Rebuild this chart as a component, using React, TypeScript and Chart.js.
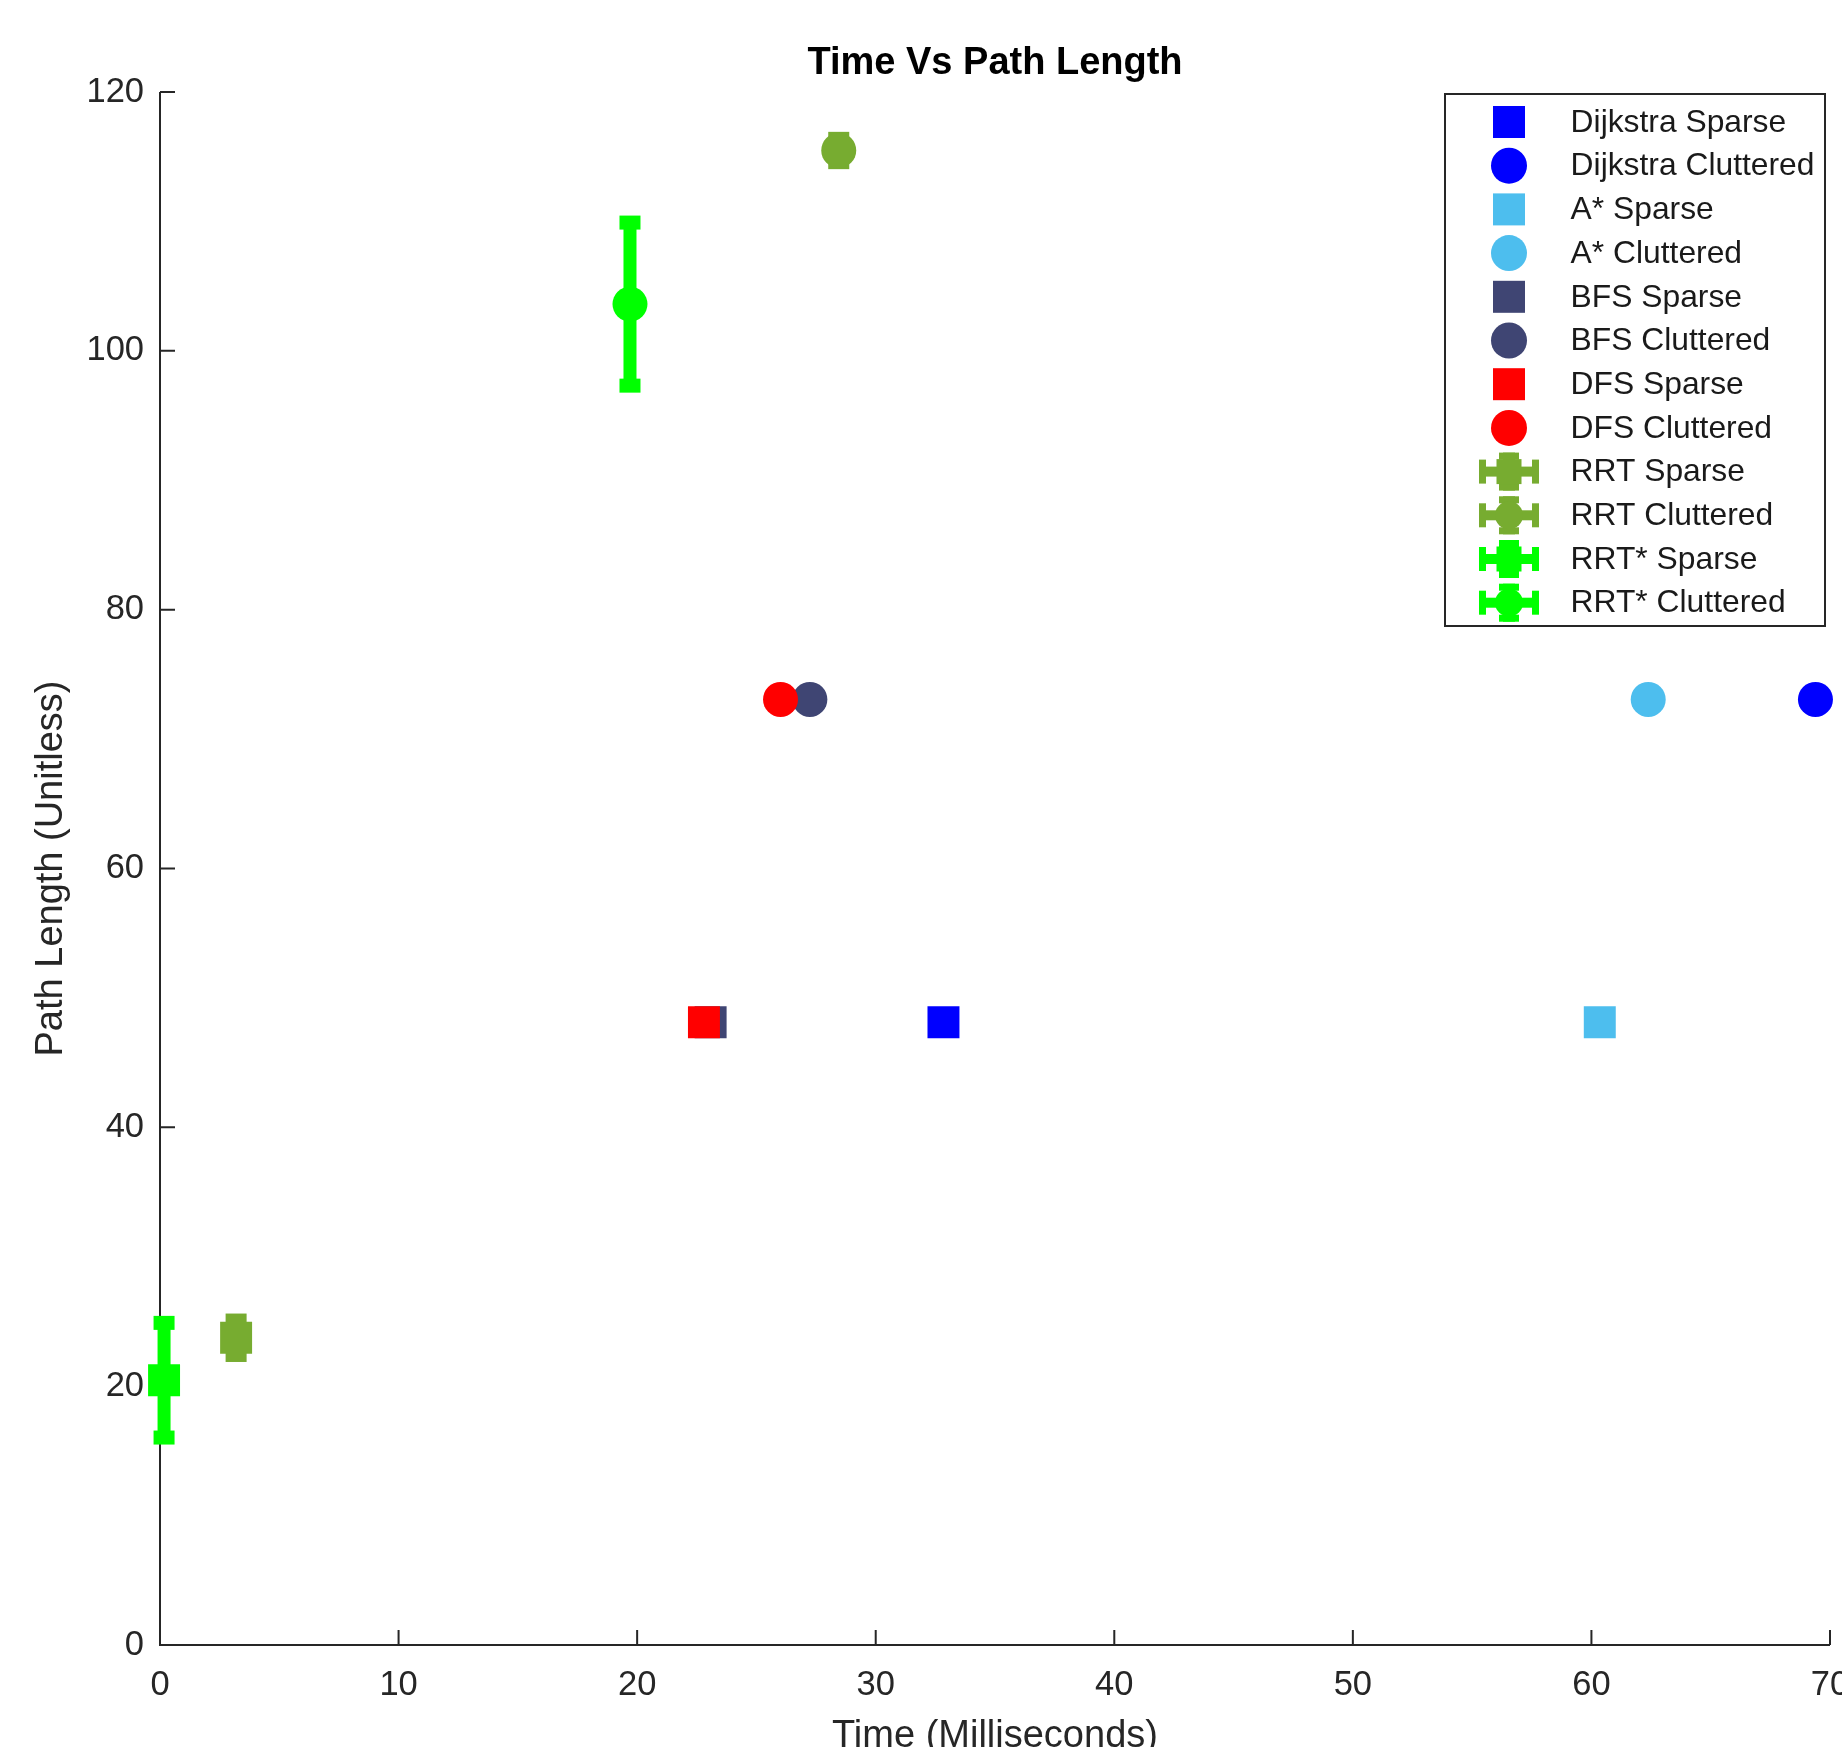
import React, { useEffect, useRef } from 'react';
import { Chart, registerables } from 'chart.js';

Chart.register(...registerables);

// ---------- data ----------
const seriesNames = [
  'Dijkstra Sparse',
  'Dijkstra Cluttered',
  'A* Sparse',
  'A* Cluttered',
  'BFS Sparse',
  'BFS Cluttered',
  'DFS Sparse',
  'DFS Cluttered',
  'RRT Sparse',
  'RRT Cluttered',
  'RRT* Sparse',
  'RRT* Cluttered',
];
const timeValues = [32.84, 69.39, 60.35, 62.38, 23.08, 27.24, 22.8, 26.01, 3.19, 28.45, 0.17, 19.7];
const pathValues = [48.12, 73.06, 48.12, 73.06, 48.12, 73.06, 48.12, 73.06, 23.74, 115.48, 20.46, 103.61];
const pathErrors = [0, 0, 0, 0, 0, 0, 0, 0, 1.33, 0.9, 4.43, 6.3];
const seriesColors = [
  '#0000FF', '#0000FF',
  '#4DBEEE', '#4DBEEE',
  '#3F4573', '#3F4573',
  '#FF0000', '#FF0000',
  '#77AC30', '#77AC30',
  '#00FF00', '#00FF00',
];
const seriesShapes = ['rect', 'circle', 'rect', 'circle', 'rect', 'circle', 'rect', 'circle', 'rect', 'circle', 'rect', 'circle'];
const xTickMin = 0;
const xTickMax = 70;
const xTickStep = 10;
const yTickMin = 0;
const yTickMax = 120;
const yTickStep = 20;
const chartTitle = 'Time Vs Path Length';
const xTitle = 'Time (Milliseconds)';
const yTitle = 'Path Length (Unitless)';

// ---------- layout ----------
const W = 1880;
const H = 1800;
const FONT = "'Liberation Sans', Arial, Helvetica, sans-serif";
const AXIS_COLOR = '#262626';

const axesPlugin = {
  id: 'matlabAxes',
  beforeDatasetsDraw(chart: any) {
    const { ctx, chartArea, scales } = chart;
    const xs = scales.x;
    const ys = scales.y;
    ctx.save();
    ctx.strokeStyle = AXIS_COLOR;
    ctx.lineWidth = 2;
    ctx.beginPath();
    ctx.moveTo(chartArea.left, chartArea.top);
    ctx.lineTo(chartArea.left, chartArea.bottom);
    ctx.lineTo(chartArea.right, chartArea.bottom);
    ctx.stroke();
    ctx.beginPath();
    xs.ticks.forEach((t: any) => {
      const px = xs.getPixelForValue(t.value);
      ctx.moveTo(px, chartArea.bottom);
      ctx.lineTo(px, chartArea.bottom - 15);
    });
    ys.ticks.forEach((t: any) => {
      const py = ys.getPixelForValue(t.value);
      ctx.moveTo(chartArea.left, py);
      ctx.lineTo(chartArea.left + 15, py);
    });
    ctx.stroke();
    ctx.restore();
  },
};

const errorBarPlugin = {
  id: 'errorBars',
  beforeDatasetsDraw(chart: any) {
    const { ctx, scales } = chart;
    const xs = scales.x;
    const ys = scales.y;
    ctx.save();
    chart.data.datasets.forEach((ds: any, i: number) => {
      const err = pathErrors[i];
      if (!err) return;
      const px = xs.getPixelForValue(timeValues[i]);
      const yTop = ys.getPixelForValue(pathValues[i] + err);
      const yBot = ys.getPixelForValue(pathValues[i] - err);
      ctx.fillStyle = ds.backgroundColor;
      ctx.fillRect(px - 6.5, yTop, 13, yBot - yTop);
      ctx.fillRect(px - 10.5, yTop - 7, 21, 14);
      ctx.fillRect(px - 10.5, yBot - 7, 21, 14);
    });
    ctx.restore();
  },
};

const legendPlugin = {
  id: 'boxLegend',
  afterDraw(chart: any) {
    const { ctx, chartArea } = chart;
    const boxW = 380;
    const boxH = 532;
    const right = chartArea.right - 5;
    const left = right - boxW;
    const top = chartArea.top + 2;
    ctx.save();
    ctx.fillStyle = '#ffffff';
    ctx.fillRect(left, top, boxW, boxH);
    ctx.strokeStyle = AXIS_COLOR;
    ctx.lineWidth = 2;
    ctx.strokeRect(left, top, boxW, boxH);
    const rowH = 43.7;
    const firstY = top + 28;
    const mx = left + 64;
    const tx = left + 125.6;
    chart.data.datasets.forEach((ds: any, i: number) => {
      const cy = firstY + i * rowH;
      const color = ds.backgroundColor;
      const shape = seriesShapes[i];
      ctx.fillStyle = color;
      if (pathErrors[i]) {
        // errorbar glyph
        ctx.fillRect(mx - 30, cy - 5, 60, 10);
        ctx.fillRect(mx - 30, cy - 12, 7, 24);
        ctx.fillRect(mx + 23, cy - 12, 7, 24);
        ctx.fillRect(mx - 6, cy - 19, 12, 38);
        ctx.fillRect(mx - 10, cy - 19, 20, 7);
        ctx.fillRect(mx - 10, cy + 12, 20, 7);
        if (shape === 'rect') {
          ctx.fillRect(mx - 12.5, cy - 12.5, 25, 25);
        } else {
          ctx.beginPath();
          ctx.arc(mx, cy, 14, 0, Math.PI * 2);
          ctx.fill();
        }
      } else if (shape === 'rect') {
        ctx.fillRect(mx - 16, cy - 16, 32, 32);
      } else {
        ctx.beginPath();
        ctx.arc(mx, cy, 18, 0, Math.PI * 2);
        ctx.fill();
      }
      ctx.fillStyle = '#1a1a1a';
      ctx.font = `31.8px ${FONT}`;
      ctx.textAlign = 'left';
      ctx.textBaseline = 'middle';
      ctx.fillText(ds.label, tx, cy + 1);
    });
    ctx.restore();
  },
};

export default function App() {
  const canvasRef = useRef<HTMLCanvasElement | null>(null);

  useEffect(() => {
    const canvas = canvasRef.current;
    if (!canvas) return;
    const datasets = seriesNames.map((name, i) => ({
      label: name,
      data: [{ x: timeValues[i], y: pathValues[i] }],
      backgroundColor: seriesColors[i],
      borderColor: seriesColors[i],
      pointStyle: seriesShapes[i],
      pointRadius: seriesShapes[i] === 'rect' ? 22.6 : 17.5,
      pointHoverRadius: seriesShapes[i] === 'rect' ? 22.6 : 17.5,
      pointBorderWidth: 0,
      pointHoverBorderWidth: 0,
      showLine: false,
      clip: false,
      order: -i,
    }));

    const chart = new Chart(canvas, {
      type: 'scatter',
      data: { datasets } as any,
      options: {
        animation: false,
        responsive: false,
        devicePixelRatio: 1,
        events: [],
        layout: { padding: { left: 0, right: 50, top: 0, bottom: 0 } },
        plugins: {
          legend: { display: false },
          tooltip: { enabled: false },
          title: {
            display: true,
            text: chartTitle,
            fullSize: false,
            color: '#000000',
            font: { family: FONT, size: 38, weight: 'bold' },
            padding: { top: 41.2, bottom: 5.2 },
          },
        },
        scales: {
          x: {
            type: 'linear',
            position: 'bottom',
            min: xTickMin,
            max: xTickMax,
            ticks: {
              stepSize: xTickStep,
              color: AXIS_COLOR,
              font: { family: FONT, size: 34.5 },
              padding: 19.5,
              maxRotation: 0,
            },
            grid: { display: false, drawTicks: false },
            border: { display: false },
            title: {
              display: true,
              text: xTitle,
              color: AXIS_COLOR,
              font: { family: FONT, size: 38 },
              padding: { top: 0, bottom: 40.5 },
            },
            afterFit: (s: any) => {
              s.height = H - 1645;
            },
          },
          y: {
            type: 'linear',
            position: 'left',
            min: yTickMin,
            max: yTickMax,
            ticks: {
              stepSize: yTickStep,
              color: AXIS_COLOR,
              font: { family: FONT, size: 34.5 },
              padding: 16,
            },
            grid: { display: false, drawTicks: false },
            border: { display: false },
            title: {
              display: true,
              text: yTitle,
              color: AXIS_COLOR,
              font: { family: FONT, size: 38 },
              padding: { top: 28.5, bottom: 0 },
            },
            afterFit: (s: any) => {
              s.width = 160;
            },
          },
        },
      } as any,
      plugins: [axesPlugin, errorBarPlugin, legendPlugin],
    });

    return () => {
      chart.destroy();
    };
  }, []);

  return (
    <div
      style={{
        position: 'fixed',
        left: 0,
        top: 0,
        width: 1842,
        height: 1747,
        overflow: 'hidden',
        background: '#ffffff',
      }}
    >
      <canvas ref={canvasRef} width={W} height={H} style={{ width: W, height: H, display: 'block' }} />
    </div>
  );
}
